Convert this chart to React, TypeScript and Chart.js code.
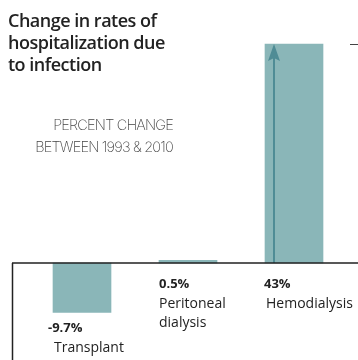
import React, { useEffect, useRef } from "react";
import { Chart, registerables } from "chart.js";

Chart.register(...registerables);

const categories = ["Transplant", "Peritoneal dialysis", "Hemodialysis"];
const values = [-9.7, 0.5, 43];
const valueLabels = ["-9.7%", "0.5%", "43%"];

const BAR = "#8ab6b8";
const ARROW = "#4f8c95";

const decorPlugin = {
  id: "decor",
  afterDatasetsDraw(chart: any) {
    const { ctx } = chart;
    const y = chart.scales.y;
    const meta = chart.getDatasetMeta(0);
    const z = y.getPixelForValue(0);
    ctx.save();
    const big = meta.data[2];
    const ax = big.x - 20;
    const top = y.getPixelForValue(values[2]);
    ctx.strokeStyle = ARROW;
    ctx.lineWidth = 2;
    ctx.beginPath();
    ctx.moveTo(ax, z);
    ctx.lineTo(ax, top + 10);
    ctx.stroke();
    ctx.fillStyle = ARROW;
    ctx.beginPath();
    ctx.moveTo(ax, top);
    ctx.lineTo(ax - 6, top + 17);
    ctx.lineTo(ax, top + 14);
    ctx.lineTo(ax + 6, top + 17);
    ctx.closePath();
    ctx.fill();
    ctx.strokeStyle = "#444";
    ctx.lineWidth = 1;
    ctx.beginPath();
    ctx.moveTo(350, Math.round(top) + 0.5);
    ctx.lineTo(358, Math.round(top) + 0.5);
    ctx.stroke();
    ctx.strokeStyle = "#222";
    ctx.lineWidth = 1.5;
    ctx.beginPath();
    ctx.moveTo(12, z);
    ctx.lineTo(358, z);
    ctx.moveTo(12.5, z);
    ctx.lineTo(12.5, 360);
    ctx.stroke();
    ctx.restore();
  },
};

export default function App() {
  const ref = useRef<HTMLCanvasElement>(null);
  useEffect(() => {
    const chart = new Chart(ref.current!, {
      type: "bar",
      data: {
        labels: categories,
        datasets: [
          {
            data: values,
            backgroundColor: BAR,
            borderWidth: 0,
            barThickness: 58,
            categoryPercentage: 1,
          },
        ],
      },
      options: {
        animation: false,
        responsive: false,
        maintainAspectRatio: false,
        layout: { padding: { left: 29, right: 11, top: 0, bottom: 0 } },
        plugins: { legend: { display: false }, tooltip: { enabled: false }, title: { display: false } },
        scales: {
          x: { display: false },
          y: { display: false, min: -19.05, max: 51.64 },
        },
      },
      plugins: [decorPlugin],
    });
    return () => chart.destroy();
  }, []);

  const sans = "'Open Sans', 'Noto Sans', sans-serif";
  const lbl: React.CSSProperties = {
    position: "absolute",
    fontFamily: sans,
    fontSize: 14,
    color: "#222",
    lineHeight: "19px",
    whiteSpace: "nowrap",
  };
  const pct: React.CSSProperties = { ...lbl, fontWeight: 700, fontSize: 13 };

  return (
    <div style={{ position: "fixed", left: 0, top: 0, width: 358, height: 360, background: "#fff", overflow: "hidden" }}>
      <canvas ref={ref} width={358} height={360} style={{ position: "absolute", left: 0, top: 0 }} />
      <div
        style={{
          position: "absolute",
          left: 8,
          top: 9,
          fontFamily: sans,
          fontWeight: 600,
          fontSize: 18,
          lineHeight: "22px",
          color: "#222",
          letterSpacing: -0.5,
        }}
      >
        Change in rates of
        <br />
        hospitalization due
        <br />
        to infection
      </div>
      <div
        style={{
          position: "absolute",
          right: 358 - 173,
          top: 114,
          textAlign: "right",
          fontFamily: "'Inter', 'DejaVu Sans', sans-serif",
          fontWeight: 200,
          fontSize: 14.5,
          lineHeight: "22px",
          color: "#444",
          letterSpacing: -0.8,
          whiteSpace: "nowrap",
        }}
      >
        PERCENT CHANGE
        <br />
        BETWEEN 1993 &amp; 2010
      </div>
      <div style={{ ...pct, left: 48, top: 318 }}>{valueLabels[0]}</div>
      <div style={{ ...lbl, left: 54, top: 337 }}>Transplant</div>
      <div style={{ ...pct, left: 159, top: 274 }}>{valueLabels[1]}</div>
      <div style={{ ...lbl, left: 159, top: 293 }}>
        Peritoneal
        <br />
        dialysis
      </div>
      <div style={{ ...pct, left: 264, top: 274 }}>{valueLabels[2]}</div>
      <div style={{ ...lbl, left: 266, top: 293 }}>Hemodialysis</div>
    </div>
  );
}
